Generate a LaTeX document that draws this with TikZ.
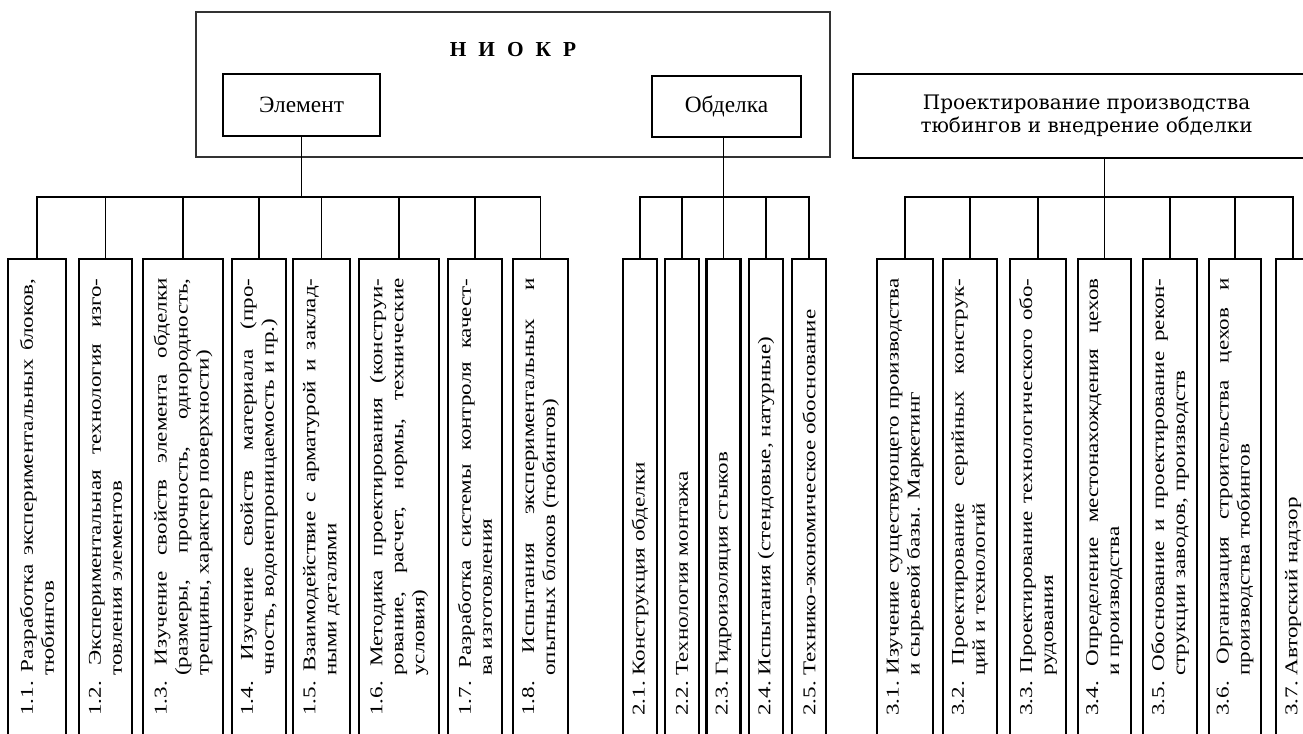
\documentclass[tikz,border=0pt]{standalone}
\usepackage{fontspec}
\setmainfont{Liberation Serif}
\newfontfamily\cellfont[FakeStretch=1.28]{Liberation Serif}
\newfontfamily\headfont{DejaVu Serif}

\begin{document}
\begin{tikzpicture}
% Structure of the research and design work on tunnel lining
\def\px{0.75pt}
\providecommand{\chartBoxWidth}{1.9pt}
\providecommand{\chartLineWidth}{1.15pt}
\providecommand{\chartFrameWidth}{0.9pt}
\providecommand{\chartFrameColor}{black!80}
\begin{scope}[x=\px, y=-\px, line join=miter,
  cellbox/.style={draw, line width=\chartBoxWidth, outer sep=0pt, inner sep=0pt,
    minimum height=390pt, anchor=north},
  celltext/.style={rotate=90, anchor=west, inner sep=0pt, text width=328pt,
    align=justify, font=\cellfont\fontsize{13.5pt}{15.75pt}\selectfont,
    execute at begin node={\hangindent=30pt\hangafter=1\hfuzz=20pt}},
  topbox/.style={draw, line width=\chartBoxWidth, outer sep=0pt, inner sep=0pt,
    font=\fontsize{17.5pt}{20pt}\selectfont},
  conn/.style={line width=\chartLineWidth}]
  % Page size of the picture
  \useasboundingbox (0,0) rectangle (1303,734);
  \fill[white] (0,0) rectangle (1303,734);
  \clip (0,0) rectangle (1303,734);
  \coordinate (bus) at (0,197);
  \coordinate (base) at (0,716);

  % Upper level
  \node[draw=\chartFrameColor, line width=\chartFrameWidth, outer sep=0pt,
    minimum width=475.5pt, minimum height=108.75pt] (niokr) at (513,84.5) {};
  \node[font=\bfseries\fontsize{16pt}{18pt}\selectfont] (niokrlbl) at (513,50)
    {Н\hskip9pt И\hskip9pt О\hskip9pt К\hskip9pt Р};
  \node[topbox, minimum width=117.75pt, minimum height=46.5pt] (elem) at (301.5,105) {Элемент};
  \node[topbox, minimum width=111.75pt, minimum height=45.75pt] (obd) at (726.5,106.5) {Обделка};
  \node[topbox, minimum width=350.25pt, minimum height=63pt, align=center,
    font=\headfont\fontsize{15pt}{17.25pt}\selectfont] (hdr) at (1086.5,116)
    {Проектирование производства\\тюбингов и внедрение обделки};

  % Boxes of group 1
  \node[cellbox, minimum width=43.5pt] (b11) at (37,259) {};
  \node[cellbox, minimum width=39.75pt] (b12) at (105.5,259) {};
  \node[cellbox, minimum width=60pt] (b13) at (183,259) {};
  \node[cellbox, minimum width=40.5pt] (b14) at (259,259) {};
  \node[cellbox, minimum width=42.75pt] (b15) at (321.5,259) {};
  \node[cellbox, minimum width=60pt] (b16) at (399,259) {};
  \node[cellbox, minimum width=40.5pt] (b17) at (475,259) {};
  \node[cellbox, minimum width=41.25pt] (b18) at (540.5,259) {};
  % Boxes of group 2
  \node[cellbox, minimum width=25.5pt] (b21) at (640,259) {};
  \node[cellbox, minimum width=25.5pt] (b22) at (682,259) {};
  \node[cellbox, minimum width=25.5pt] (b23) at (723.5,259) {};
  \node[cellbox, minimum width=25.5pt] (b24) at (766,259) {};
  \node[cellbox, minimum width=25.5pt] (b25) at (809,259) {};
  % Boxes of group 3
  \node[cellbox, minimum width=42pt] (b31) at (905,259) {};
  \node[cellbox, minimum width=40.5pt] (b32) at (970,259) {};
  \node[cellbox, minimum width=42pt] (b33) at (1038,259) {};
  \node[cellbox, minimum width=39.75pt] (b34) at (1104.5,259) {};
  \node[cellbox, minimum width=40.5pt] (b35) at (1170,259) {};
  \node[cellbox, minimum width=39pt] (b36) at (1235,259) {};
  \node[cellbox, minimum width=25.5pt] (b37) at (1293,259) {};

  % Texts of group 1 (first lines tied, so they break only where the chart does)
  \node[celltext] (t11) at (b11 |- base) {1.1.~Разработка~экспериментальных~блоков,\linebreak тюбингов};
  \node[celltext] (t12) at (b12 |- base) {1.2.~Экспериментальная~технология~изго-\linebreak товления элементов};
  \node[celltext] (t13) at (b13 |- base) {1.3.~Изучение~свойств~элемента~обделки\linebreak (размеры,~прочность,~однородность,\linebreak трещины, характер поверхности)};
  \node[celltext] (t14) at (b14 |- base) {1.4.~Изучение~свойств~материала~(про-\linebreak чность, водонепроницаемость и пр.)};
  \node[celltext] (t15) at (b15 |- base) {1.5.~Взаимодействие~с~арматурой~и~заклад-\linebreak ными деталями};
  \node[celltext] (t16) at (b16 |- base) {1.6.~Методика~проектирования~(конструи-\linebreak рование,~расчет,~нормы,~технические\linebreak условия)};
  \node[celltext] (t17) at (b17 |- base) {1.7.~Разработка~системы~контроля~качест-\linebreak ва изготовления};
  \node[celltext] (t18) at (b18 |- base) {1.8.~Испытания~экспериментальных~и\linebreak опытных блоков (тюбингов)};
  % Texts of group 2
  \node[celltext] (t21) at (b21 |- base) {2.1.~Конструкция обделки};
  \node[celltext] (t22) at (b22 |- base) {2.2.~Технология монтажа};
  \node[celltext] (t23) at (b23 |- base) {2.3.~Гидроизоляция стыков};
  \node[celltext] (t24) at (b24 |- base) {2.4.~Испытания (стендовые, натурные)};
  \node[celltext] (t25) at (b25 |- base) {2.5.~Технико-экономическое~обоснование};
  % Texts of group 3
  \node[celltext] (t31) at (b31 |- base) {3.1.~Изучение~существующего~производства\linebreak и сырьевой базы. Маркетинг};
  \node[celltext] (t32) at (b32 |- base) {3.2.~Проектирование~серийных~конструк-\linebreak ций и технологий};
  \node[celltext] (t33) at (b33 |- base) {3.3.~Проектирование~технологического~обо-\linebreak рудования};
  \node[celltext] (t34) at (b34 |- base) {3.4.~Определение~местонахождения~цехов\linebreak и производства};
  \node[celltext] (t35) at (b35 |- base) {3.5.~Обоснование~и~проектирование~рекон-\linebreak струкции заводов, производств};
  \node[celltext] (t36) at (b36 |- base) {3.6.~Организация~строительства~цехов~и\linebreak производства тюбингов};
  \node[celltext] (t37) at (b37 |- base) {3.7.~Авторский надзор};

  % Connectors of group 1
  \draw[conn] (elem.south) -- (elem.south |- bus);
  \draw[conn] (b11.north) |- (b18.north |- bus) -- (b18.north);
  \draw[conn] (b12.north) -- (b12.north |- bus);
  \draw[conn] (b13.north) -- (b13.north |- bus);
  \draw[conn] (b14.north) -- (b14.north |- bus);
  \draw[conn] (b15.north) -- (b15.north |- bus);
  \draw[conn] (b16.north) -- (b16.north |- bus);
  \draw[conn] (b17.north) -- (b17.north |- bus);
  % Connectors of group 2
  \draw[conn] (obd.south -| b23.north) -- (b23.north);
  \draw[conn] (b21.north) |- (b25.north |- bus) -- (b25.north);
  \draw[conn] (b22.north) -- (b22.north |- bus);
  \draw[conn] (b24.north) -- (b24.north |- bus);
  % Connectors of group 3
  \draw[conn] (hdr.south -| b34.north) -- (b34.north);
  \draw[conn] (b31.north) |- (b37.north |- bus) -- (b37.north);
  \draw[conn] (b32.north) -- (b32.north |- bus);
  \draw[conn] (b33.north) -- (b33.north |- bus);
  \draw[conn] (b35.north) -- (b35.north |- bus);
  \draw[conn] (b36.north) -- (b36.north |- bus);
\end{scope}
\end{tikzpicture}
\end{document}
